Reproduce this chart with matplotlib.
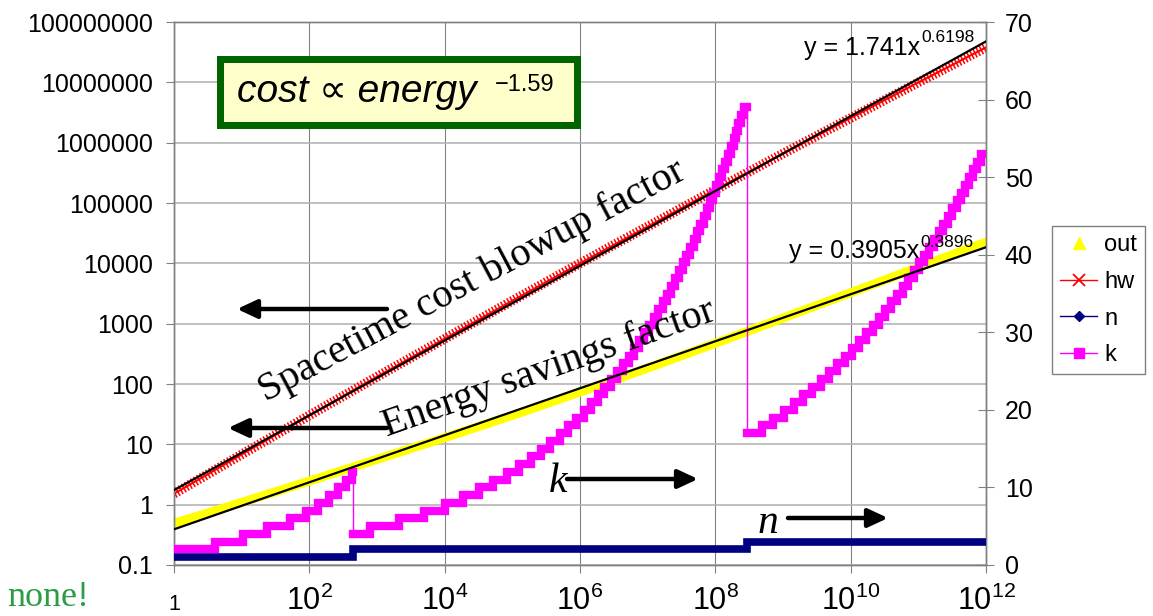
import numpy as np
import matplotlib
matplotlib.use("Agg")
import matplotlib.pyplot as plt
from matplotlib.lines import Line2D
from matplotlib.patches import Rectangle, FancyArrowPatch
from matplotlib.ticker import FixedLocator, FixedFormatter, NullLocator
import matplotlib.transforms as mtransforms

plt.rcParams['font.family'] = ['Liberation Sans', 'DejaVu Sans']
plt.rcParams['mathtext.fontset'] = 'custom'
plt.rcParams['mathtext.rm'] = 'Liberation Sans'
plt.rcParams['mathtext.it'] = 'Liberation Sans:italic'

W, H = 1153, 616

# ---- data (x given as log10 exponents) ----
curve_exp = [0.0, 0.5, 1.0, 1.5, 2.0, 2.5, 3.0, 3.5, 4.0, 4.5, 5.0, 5.5, 6.0,
             6.5, 7.0, 7.5, 8.0, 8.5, 9.0, 9.5, 10.0, 10.5, 11.0, 11.5, 12.0]
out_vals = [0.491, 0.727, 1.09, 1.64, 2.46, 3.72, 5.63, 8.51, 12.9, 19.7, 30.2,
            47.0, 73.7, 116, 184, 294, 472, 764, 1240, 2010, 3260, 5280, 8560,
            13900, 22500]
hw_vals = [1.52, 3.2, 6.8, 14.3, 30.2, 63, 132, 272, 562, 1160, 2400, 4890,
           9990, 20200, 40700, 82100, 166000, 330000, 659000, 1.30e6, 2.56e6,
           5.06e6, 9.97e6, 1.94e7, 3.79e7]

n_exp = [0.0, 2.65, 8.47]
n_vals = [1, 2, 3]

# start of each k step
k_exp = [0.0, 0.61, 1.02, 1.37, 1.72, 1.95, 2.13, 2.29, 2.42, 2.54, 2.63,
         2.65, 2.90, 3.33, 3.69, 4.00, 4.27, 4.51, 4.72, 4.92, 5.10, 5.27, 5.42,
         5.56, 5.70, 5.82, 5.94, 6.06, 6.16, 6.27, 6.36, 6.46, 6.55, 6.63, 6.72,
         6.80, 6.87, 6.95, 7.02, 7.09, 7.15, 7.22, 7.28, 7.34, 7.40, 7.46, 7.52,
         7.57, 7.63, 7.68, 7.73, 7.78, 7.83, 7.88, 7.92, 7.97, 8.01, 8.06, 8.10,
         8.14, 8.19, 8.23, 8.27, 8.30, 8.34, 8.38, 8.42,
         8.47, 8.69, 8.85, 9.01, 9.16, 9.30, 9.43, 9.56, 9.68, 9.80, 9.91, 10.02,
         10.13, 10.23, 10.33, 10.42, 10.51, 10.60, 10.69, 10.77, 10.85, 10.93,
         11.01, 11.09, 11.16, 11.23, 11.30, 11.37, 11.44, 11.50, 11.57, 11.63,
         11.69, 11.75, 11.81, 11.87, 11.92]
k_vals = [2, 3, 4, 5, 6, 7, 8, 9, 10, 11, 12,
          4, 5, 6, 7, 8, 9, 10, 11, 12, 13, 14, 15, 16, 17, 18, 19, 20, 21, 22,
          23, 24, 25, 26, 27, 28, 29, 30, 31, 32, 33, 34, 35, 36, 37, 38, 39, 40,
          41, 42, 43, 44, 45, 46, 47, 48, 49, 50, 51, 52, 53, 54, 55, 56, 57, 58, 59,
          17, 18, 19, 20, 21, 22, 23, 24, 25, 26, 27, 28, 29, 30, 31, 32, 33, 34,
          35, 36, 37, 38, 39, 40, 41, 42, 43, 44, 45, 46, 47, 48, 49, 50, 51, 52, 53]
x_end_exp = 12.0

hw_fit = (1.741, 0.6198)
out_fit = (0.3905, 0.3896)

y_ticks = [0.1, 1, 10, 100, 1e3, 1e4, 1e5, 1e6, 1e7, 1e8]
y_tick_labels = ['0.1', '1', '10', '100', '1000', '10000', '100000',
                 '1000000', '10000000', '100000000']
x_ticks_exp = [0, 2, 4, 6, 8, 10, 12]
x_tick_labels = ['1', '$10^{2}$', '$10^{4}$', '$10^{6}$', '$10^{8}$',
                 '$10^{10}$', '$10^{12}$']
y2_ticks = [0, 10, 20, 30, 40, 50, 60, 70]

GRAY = '#808080'


def fx(x):
    return x / W


def fy(y):
    return 1 - y / H


fig = plt.figure(figsize=(W / 100, H / 100), dpi=100)
ax = fig.add_axes([fx(174), 1 - 565 / H, 812 / W, 543 / H])
ax2 = ax.twinx()

# left axis series
xc = 10 ** np.array(curve_exp)
ax.plot(xc, out_vals, color='#FFFF00', lw=6.5, solid_capstyle='round', zorder=2)
ax.plot(xc, hw_vals, color='#FF0000', lw=7, dashes=(0.16, 0.2), zorder=3)
ax.plot(xc, hw_vals, color='#FF0000', lw=1.5, zorder=3)

ax.set_xscale('log')
ax.set_yscale('log')
ax.set_xlim(1, 1e12)
ax.set_ylim(0.1, 1e8)
ax.yaxis.set_major_locator(FixedLocator(y_ticks))
ax.yaxis.set_major_formatter(FixedFormatter(y_tick_labels))
ax.yaxis.set_minor_locator(NullLocator())
xt = [10.0 ** e for e in x_ticks_exp]
ax.xaxis.set_major_locator(FixedLocator(xt))
ax.xaxis.set_major_formatter(FixedFormatter([''] + x_tick_labels[1:]))
ax.xaxis.set_minor_locator(NullLocator())
ax.tick_params(axis='y', labelsize=18, direction='out', length=6, color=GRAY, pad=9)
ax.tick_params(axis='x', labelsize=22, direction='out', length=6, color=GRAY, pad=9)
ax.text(xt[0], -0.072, x_tick_labels[0], fontsize=15.5, ha='center', va='center',
        transform=mtransforms.blended_transform_factory(ax.transData, ax.transAxes))
ax.grid(True, axis='y', color='#B4B4B4', lw=1.2)
ax.grid(True, axis='x', color=GRAY, lw=0.8)
ax.set_axisbelow(True)

# right axis series (n, k)
ne = list(n_exp) + [x_end_exp]
nv = list(n_vals) + [n_vals[-1]]
ax2.plot(10 ** np.array(ne), nv, drawstyle='steps-post', color='#000080', lw=5.5,
         solid_joinstyle='miter', solid_capstyle='projecting', zorder=3)

# split k into runs at the drops
ke = np.array(k_exp)
kv = np.array(k_vals)
cuts = list(np.where(np.diff(kv) < 0)[0] + 1)
bounds = [0] + cuts + [len(kv)]
for i in range(len(bounds) - 1):
    a, b = bounds[i], bounds[i + 1]
    xe = list(ke[a:b]) + [ke[b] if b < len(ke) else x_end_exp]
    yv = list(kv[a:b]) + [kv[b - 1]]
    ax2.plot(10 ** np.array(xe), yv, drawstyle='steps-post', color='#FF00FF', lw=6,
             solid_joinstyle='miter', solid_capstyle='projecting', zorder=4)
    if b < len(ke):
        ax2.plot([10 ** ke[b]] * 2, [kv[b - 1], kv[b]], color='#FF00FF', lw=1, zorder=4)

# trend lines (on top of everything, in left-axis coordinates)
xf = np.array([1.0, 1e12])
for a_, b_ in (hw_fit, out_fit):
    ax2.plot(xf, a_ * xf ** b_, color='black', lw=1.6, zorder=6, transform=ax.transData)

ax2.set_xlim(1, 1e12)
ax2.set_ylim(0, 70)
ax2.yaxis.set_major_locator(FixedLocator(y2_ticks))
ax2.tick_params(axis='y', labelsize=18, direction='inout', length=11, color=GRAY, pad=8)
for a_ in (ax, ax2):
    for sp in a_.spines.values():
        sp.set_color(GRAY)
        sp.set_linewidth(1)

# legend
handles = [
    Line2D([], [], ls='none', marker='^', color='#FFFF00', markersize=9),
    Line2D([], [], color='#FF0000', lw=1, marker='x', markersize=8, markeredgewidth=1.3),
    Line2D([], [], color='#000080', lw=1, marker='D', markersize=5),
    Line2D([], [], color='#FF00FF', lw=1, marker='s', markersize=7),
]
leg = fig.legend(handles, ['out', 'hw', 'n', 'k'], loc='upper left',
                 bbox_to_anchor=(fx(1052), fy(226)), borderaxespad=0, fontsize=17,
                 frameon=True, fancybox=False, edgecolor=GRAY, framealpha=1,
                 handlelength=1.55, handletextpad=0.3, labelspacing=0.62,
                 borderpad=0.35)
leg.get_frame().set_linewidth(1)

# trend equations
fig.text(fx(804), fy(55), 'y = 1.741x', fontsize=18, va='baseline')
fig.text(fx(921), fy(42), '0.6198', fontsize=12.5, va='baseline')
fig.text(fx(789), fy(258), 'y = 0.3905x', fontsize=18, va='baseline')
fig.text(fx(920), fy(247), '0.3896', fontsize=12.5, va='baseline')

# cost box
bw = 7
fig.add_artist(Rectangle((fx(216 + bw / 2), fy(128 - bw / 2)),
                         (580 - 216 - bw) / W, (128 - 55 - bw) / H,
                         transform=fig.transFigure, facecolor='#FFFFCC',
                         edgecolor='#006400', linewidth=bw * 0.72))
fig.text(fx(237), fy(102), 'cost \u221d energy', fontsize=28, style='italic',
         va='baseline')
fig.text(fx(495), fy(91), '\u22121.59', fontsize=17, va='baseline')

# rotated annotations
serif = ['Liberation Serif', 'DejaVu Serif']
fig.text(fx(477), fy(290), 'Spacetime cost blowup factor', fontsize=29, family=serif,
         rotation=28, rotation_mode='anchor', ha='center', va='baseline')
fig.text(fx(552), fy(378), 'Energy savings factor', fontsize=29, family=serif,
         rotation=19.5, rotation_mode='anchor', ha='center', va='baseline')
fig.text(fx(549), fy(492), 'k', fontsize=30, family=serif, style='italic', va='baseline')
fig.text(fx(758), fy(533), 'n', fontsize=30, family=serif, style='italic', va='baseline')
fig.text(fx(7), fy(606), 'none!', fontsize=26, family=serif, color='#2A9D45',
         va='baseline')


def arrow(x0, x1, y):
    fig.add_artist(FancyArrowPatch((fx(x0), fy(y)), (fx(x1), fy(y)),
                                   transform=fig.transFigure,
                                   arrowstyle='-|>,head_length=0.6,head_width=0.28',
                                   mutation_scale=20, lw=3.2, color='black',
                                   shrinkA=0, shrinkB=0))


arrow(387, 237, 309)
arrow(387, 228, 428)
arrow(567, 698, 479)
arrow(788, 888, 518)

fig.savefig('out.png', dpi=100)
